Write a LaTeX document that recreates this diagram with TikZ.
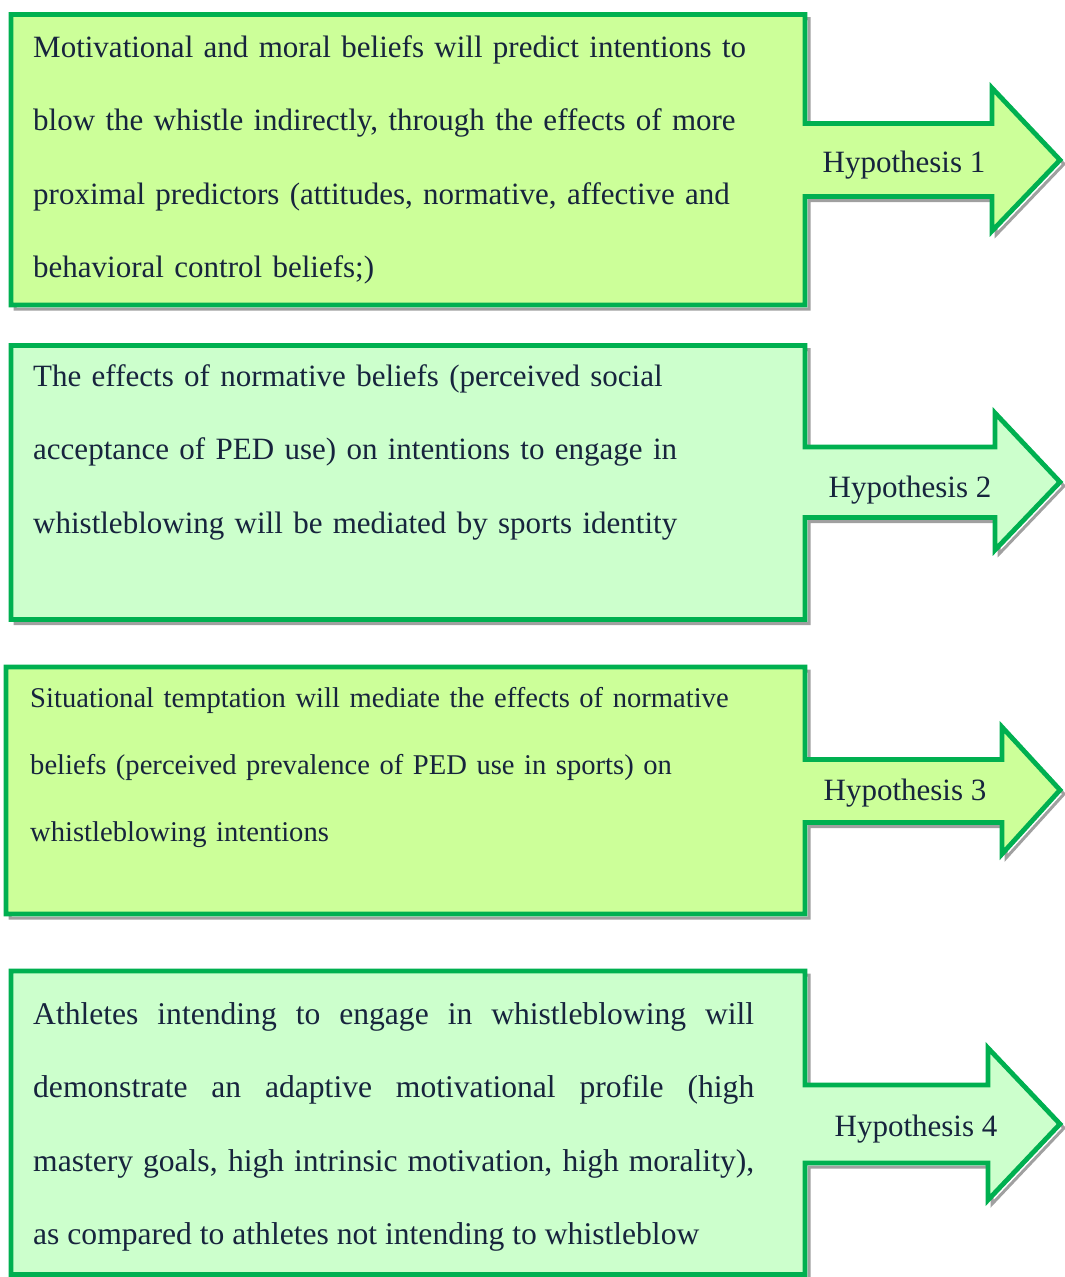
\documentclass[tikz,border=0pt]{standalone}
\usepackage{fontspec}
\setmainfont{Liberation Serif}
\usepackage{tikz}

\definecolor{hypborder}{HTML}{00B050}
\definecolor{limefill}{HTML}{CCFF99}
\definecolor{mintfill}{HTML}{CCFFCC}
\definecolor{inktext}{HTML}{17243D}
\definecolor{shadowgray}{HTML}{A0A0A0}

\tikzset{hypbox/.style={draw=hypborder, line width=4.8pt, line join=miter},
  hypshadow/.style={draw=shadowgray, line width=3pt, shift={(4,4)}},
  hyptext/.style={anchor=base west, inner sep=0pt, text=inktext, align=left,
    text width=760pt, font=\fontsize{31}{73.5}\selectfont},
  hyplabel/.style={anchor=base, inner sep=0pt, text=inktext,
    font=\fontsize{31}{31}\selectfont}}

% outline: top, bottom, left, shaft top, shaft bottom, head x, head top, head bottom, tip y
\newcommand{\hypoutline}[9]{(#3,#1) -- (805,#1) -- (805,#4) -- (#6,#4) -- (#6,#7)
  -- (1060,#9) -- (#6,#8) -- (#6,#5) -- (805,#5) -- (805,#2) -- (#3,#2) -- cycle}

\begin{document}
\begin{tikzpicture}[x=1pt, y=-1pt]
\useasboundingbox (0,0) rectangle (1065,1277);

% shadows
\draw [hypshadow] \hypoutline{14.5}{305}{11}{123.5}{196.5}{992}{88}{231}{160};
\draw [hypshadow] \hypoutline{345.5}{619.5}{11}{447}{517.5}{995}{413}{550}{482};
\draw [hypshadow] \hypoutline{667}{914}{6}{759.5}{822.5}{1002}{727}{854}{790};
\draw [hypshadow] \hypoutline{971}{1274.5}{11}{1085}{1163}{988}{1048}{1200}{1124};

% boxes
\draw [hypbox, fill=limefill] \hypoutline{14.5}{305}{11}{123.5}{196.5}{992}{88}{231}{160};
\draw [hypbox, fill=mintfill] \hypoutline{345.5}{619.5}{11}{447}{517.5}{995}{413}{550}{482};
\draw [hypbox, fill=limefill] \hypoutline{667}{914}{6}{759.5}{822.5}{1002}{727}{854}{790};
\draw [hypbox, fill=mintfill] \hypoutline{971}{1274.5}{11}{1085}{1163}{988}{1048}{1200}{1124};

% texts
\node [hyptext] (t1) at (33,57) {Motivational and moral beliefs will predict intentions to\\
  blow the whistle indirectly, through the effects of more\\
  proximal predictors (attitudes, normative, affective and\\
  behavioral control beliefs;)};
\node [hyptext] (t2) at (33,386) {The effects of normative beliefs (perceived social\\
  acceptance of PED use) on intentions to engage in\\
  whistleblowing will be mediated by sports identity};
\node [hyptext, font=\fontsize{28.6}{67}\selectfont] (t3) at (30,707) {Situational temptation will mediate the effects of normative\\
  beliefs (perceived prevalence of PED use in sports) on\\
  whistleblowing intentions};
\node [hyptext, align=justify, text width=721pt, font=\fontsize{31.6}{73.5}\selectfont] (t4) at (33,1024) {Athletes intending to engage in whistleblowing will \linebreak
  demonstrate an adaptive motivational profile (high \linebreak
  mastery goals, high intrinsic motivation, high morality), \linebreak
  as compared to athletes not intending to whistleblow};

% labels
\node [hyplabel] (h1) at (904,172) {Hypothesis 1};
\node [hyplabel] (h2) at (910,497) {Hypothesis 2};
\node [hyplabel] (h3) at (905,800) {Hypothesis 3};
\node [hyplabel] (h4) at (916,1136) {Hypothesis 4};
\end{tikzpicture}
\end{document}
